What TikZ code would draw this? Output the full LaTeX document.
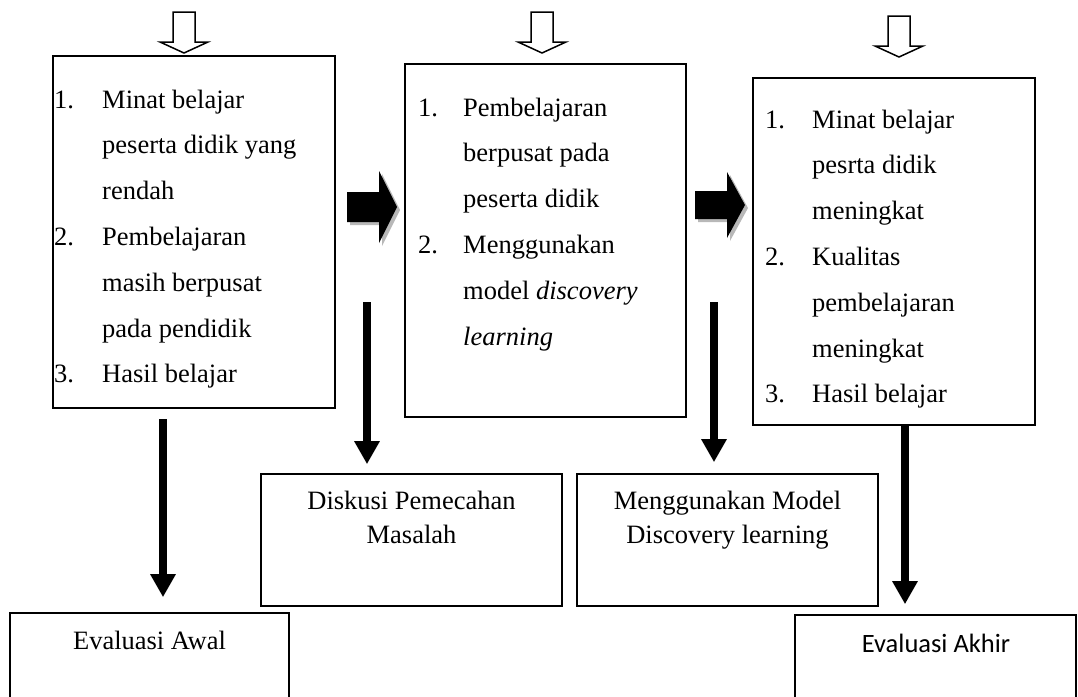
\documentclass[tikz,border=0pt]{standalone}
\usepackage{fontspec}
\setmainfont{Liberation Serif}
\newfontfamily\calibri{Carlito}
\usetikzlibrary{arrows.meta}

\begin{document}
\begin{tikzpicture}[x=1pt, y=-1pt,
  box/.style={draw, line width=1.6pt, inner sep=0pt},
  isi/.style={inner sep=0pt, anchor=base west, font=\fontsize{26.5}{45.8}\selectfont},
  ket/.style={inner sep=0pt, anchor=base, font=\fontsize{26.5}{34}\selectfont},
  hollow/.style={draw, line width=1.5pt, fill=white, line join=miter},
  tebal/.style={fill=black},
  bayang/.style={fill=black!28},
  turun/.style={line width=8pt, -{Triangle[width=24pt, length=23pt]}}]
\path[use as bounding box, clip] (0,0) rectangle (1078,696);

\draw[hollow, shift={(184,12)}] (-11,0) -- (11,0) -- (11,30) -- (24,30) -- (0,41) -- (-24,30) -- (-11,30) -- cycle;
\draw[hollow, shift={(542,12)}] (-11,0) -- (11,0) -- (11,30) -- (24,30) -- (0,41) -- (-24,30) -- (-11,30) -- cycle;
\draw[hollow, shift={(899,16)}] (-11,0) -- (11,0) -- (11,30) -- (24,30) -- (0,41) -- (-24,30) -- (-11,30) -- cycle;

\node[box, minimum width=282, minimum height=352] (masalah) at (194,232) {};
\node[box, minimum width=281, minimum height=353] (solusi) at (545.5,240.5) {};
\node[box, minimum width=282, minimum height=347] (hasil) at (894,251.5) {};
\node[box, minimum width=279, minimum height=120] (awal) at (149.5,673) {};
\node[box, minimum width=301, minimum height=132] (diskusi) at (411.5,540) {};
\node[box, minimum width=301, minimum height=132] (model) at (727.5,540) {};
\node[box, minimum width=281, minimum height=120] (akhir) at (935.5,675) {};

\node[isi] (masalahisi) at (54,108) {\begin{tabular}[t]{@{}p{48pt}@{}l@{}}
1. & Minat belajar\\
   & peserta didik yang\\
   & rendah\\
2. & Pembelajaran\\
   & masih berpusat\\
   & pada pendidik\\
3. & Hasil belajar
\end{tabular}};
\node[isi] (solusiisi) at (418,116) {\begin{tabular}[t]{@{}p{45pt}@{}l@{}}
1. & Pembelajaran\\
   & berpusat pada\\
   & peserta didik\\
2. & Menggunakan\\
   & model \textit{discovery}\\
   & \textit{learning}
\end{tabular}};
\node[isi] (hasilisi) at (765,128) {\begin{tabular}[t]{@{}p{47pt}@{}l@{}}
1. & Minat belajar\\
   & pesrta didik\\
   & meningkat\\
2. & Kualitas\\
   & pembelajaran\\
   & meningkat\\
3. & Hasil belajar
\end{tabular}};
\node[ket] (awalisi) at (149.5,649) {Evaluasi Awal};
\node[ket] (diskusiisi) at (411.5,509) {\begin{tabular}[t]{@{}c@{}}Diskusi Pemecahan\\ Masalah\end{tabular}};
\node[ket] (modelisi) at (727.5,509) {\begin{tabular}[t]{@{}c@{}}Menggunakan Model\\ Discovery learning\end{tabular}};
\node[ket, font=\fontsize{26.5}{34}\calibri] (akhirisi) at (936,652) {Evaluasi Akhir};

\fill[bayang, shift={(350,210)}] (0,-15) -- (32,-15) -- (32,-36) -- (50,0) -- (32,36) -- (32,15) -- (0,15) -- cycle;
\fill[tebal, shift={(347,207)}] (0,-15) -- (32,-15) -- (32,-36) -- (50,0) -- (32,36) -- (32,15) -- (0,15) -- cycle;
\fill[bayang, shift={(698,208)}] (0,-14) -- (32,-14) -- (32,-33) -- (50,0) -- (32,33) -- (32,14) -- (0,14) -- cycle;
\fill[tebal, shift={(695,205)}] (0,-14) -- (32,-14) -- (32,-33) -- (50,0) -- (32,33) -- (32,14) -- (0,14) -- cycle;

\coordinate (p1) at (163,419);
\coordinate (p2) at (367,302);
\coordinate (p3) at (714,302);
\coordinate (p4) at (905,425);
\draw[turun, shorten >=15pt] (p1) -- (p1 |- awal.north);
\draw[turun, shorten >=9pt] (p2) -- (p2 |- diskusi.north);
\draw[turun, shorten >=11pt] (p3) -- (p3 |- model.north);
\draw[turun, shorten >=10pt] (p4) -- (p4 |- akhir.north);
\end{tikzpicture}
\end{document}
